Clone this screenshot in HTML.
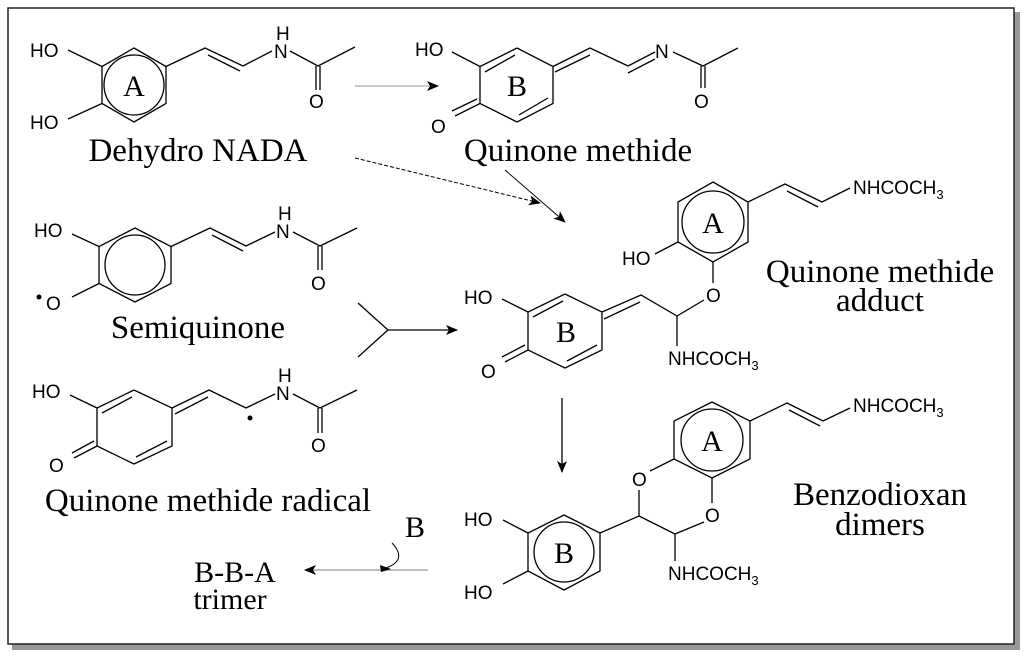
<!DOCTYPE html>
<html><head><meta charset="utf-8"><style>
html,body{margin:0;padding:0;background:#fff;width:1024px;height:657px;overflow:hidden}
svg{display:block}
.s{font-family:"Liberation Sans",sans-serif;font-size:19px;fill:#000}
.r{font-family:"Liberation Serif",serif;fill:#000}
</style></head><body>
<svg width="1024" height="657" viewBox="0 0 1024 657" xmlns="http://www.w3.org/2000/svg">
<defs>
<marker id="ah" viewBox="0 0 12 10" refX="11" refY="5" markerWidth="12" markerHeight="10" markerUnits="userSpaceOnUse" orient="auto"><path d="M0,0 L12,5 L0,10 L3,5 Z" fill="#000"/></marker>
</defs>
<rect x="12" y="12" width="1008" height="638" fill="#999"/>
<rect x="8" y="8" width="1006" height="636" fill="#fff" stroke="#222" stroke-width="1.5"/>
<g stroke="#000" stroke-width="1.3" fill="none">
<!-- Dehydro NADA -->
<polygon points="134,48 166,66.5 166,103.5 134,122 102,103.5 102,66.5"/>
<circle cx="134" cy="85" r="30"/>
<line x1="102" y1="66.5" x2="68" y2="50"/><line x1="102" y1="103.5" x2="68" y2="119"/>
<polyline points="166,66.5 205,48 243,66 272,51"/><line x1="208" y1="55" x2="240" y2="71"/>
<polyline points="290,51 318,66 355,47"/><line x1="316" y1="66" x2="316" y2="90"/><line x1="320" y1="66" x2="320" y2="90"/>
<!-- Quinone methide -->
<polyline points="517,48 553,66.5 553,103.5 517,122 480,103.5 480,66.5 517,48"/>
<line x1="485" y1="72" x2="515" y2="55"/><line x1="519" y1="115" x2="548" y2="98"/>
<line x1="480" y1="66.5" x2="452" y2="52"/>
<line x1="480" y1="103.5" x2="455" y2="116"/><line x1="477" y1="99" x2="452" y2="111"/>
<polyline points="553,66.5 590,48 628,66"/><line x1="555" y1="72" x2="590" y2="55"/>
<line x1="628" y1="66" x2="655" y2="52"/><line x1="628" y1="73" x2="655" y2="59"/>
<polyline points="673,52 703,66 738,48"/><line x1="701" y1="66" x2="701" y2="88"/><line x1="705" y1="66" x2="705" y2="88"/>
<!-- Semiquinone -->
<polygon points="135,228 171,246.5 171,283.5 135,302 99,283.5 99,246.5"/>
<circle cx="135" cy="265" r="30"/>
<line x1="99" y1="246.5" x2="72" y2="234"/><line x1="99" y1="283.5" x2="72" y2="297"/>
<polyline points="171,246.5 210,228 246,246 275,232"/><line x1="212" y1="235" x2="243" y2="251"/>
<polyline points="293,232 320,246 357,228"/><line x1="318" y1="246" x2="318" y2="270"/><line x1="322" y1="246" x2="322" y2="270"/>
<!-- Quinone methide radical -->
<polyline points="134,390 172,408 172,446 134,464 97,446 97,408 134,390"/>
<line x1="102" y1="413" x2="132" y2="397"/><line x1="136" y1="457" x2="167" y2="441"/>
<line x1="97" y1="408" x2="70" y2="395"/>
<line x1="97" y1="446" x2="74" y2="458"/><line x1="94" y1="441" x2="72" y2="453"/>
<polyline points="172,408 209,390 246,408 275,394"/><line x1="175" y1="414" x2="208" y2="397"/>
<polyline points="293,394 320,408 357,390"/><line x1="318" y1="408" x2="318" y2="433"/><line x1="322" y1="408" x2="322" y2="433"/>
<!-- arrows -->
<line x1="355" y1="86" x2="438" y2="86" stroke="#aaa" marker-end="url(#ah)"/>
<line x1="355" y1="158" x2="540" y2="203" stroke-dasharray="4,2" stroke-width="1" marker-end="url(#ah)"/>
<line x1="505" y1="170" x2="565" y2="222" stroke-width="1" marker-end="url(#ah)"/>
<line x1="358" y1="303" x2="388" y2="330"/><line x1="358" y1="357" x2="388" y2="330"/>
<line x1="388" y1="330" x2="457" y2="330" marker-end="url(#ah)"/>
<line x1="562" y1="398" x2="562" y2="472" marker-end="url(#ah)"/>
<line x1="428" y1="570" x2="305" y2="570" stroke="#999" marker-end="url(#ah)"/>
<path d="M392,543 Q408,560 386,568" stroke-width="1"/>
<path d="M380,565 L391,569 L381,572 Z" fill="#000" stroke="none"/>
<!-- Adduct ring A -->
<polygon points="713,182 748,202 748,242 713,262 678,242 678,202"/>
<circle cx="713" cy="222" r="31"/>
<line x1="678" y1="242" x2="655" y2="254"/>
<line x1="713" y1="262" x2="713" y2="283"/>
<polyline points="748,202 785,184 822,202 850,188"/><line x1="787" y1="191" x2="818" y2="207"/>
<!-- Adduct ring B -->
<polyline points="565,294 602,312 602,350 565,368 528,350 528,312 565,294"/>
<line x1="533" y1="317" x2="563" y2="301"/><line x1="567" y1="361" x2="597" y2="345"/>
<line x1="528" y1="312" x2="502" y2="299"/>
<line x1="528" y1="350" x2="505" y2="362"/><line x1="525" y1="345" x2="502" y2="357"/>
<polyline points="602,312 641,295 677,316 704,300"/><line x1="604" y1="319" x2="640" y2="302"/>
<line x1="677" y1="316" x2="677" y2="346"/>
<!-- Dimer ring A -->
<polygon points="712,402 750,421 750,459 712,478 674,459 674,421"/>
<circle cx="712" cy="440" r="31"/>
<polyline points="750,421 787,403 823,421 850,408"/><line x1="789" y1="410" x2="820" y2="426"/>
<line x1="674" y1="459" x2="650" y2="471"/>
<line x1="712" y1="478" x2="712" y2="503"/>
<line x1="639" y1="490" x2="639" y2="516"/>
<line x1="704" y1="522" x2="675" y2="534"/>
<line x1="639" y1="516" x2="675" y2="534"/>
<line x1="675" y1="534" x2="675" y2="561"/>
<!-- Dimer ring B -->
<polygon points="564,515 600,533 600,571 564,590 528,571 528,533"/>
<circle cx="564" cy="552" r="30"/>
<line x1="600" y1="533" x2="639" y2="516"/>
<line x1="528" y1="533" x2="503" y2="520"/><line x1="528" y1="571" x2="503" y2="584"/>
</g>
<circle cx="250" cy="418" r="2.5"/>
<circle cx="39" cy="297" r="2.5"/>
<!-- text -->
<g class="s">
<text x="30" y="57">HO</text><text x="30" y="129">HO</text>
<text x="274" y="58">N</text><text x="276" y="40">H</text>
<text x="309" y="108">O</text>
<text x="415" y="56">HO</text><text x="431" y="133">O</text>
<text x="655" y="58">N</text><text x="694" y="108">O</text>
<text x="34" y="237">HO</text><text x="46" y="310">O</text>
<text x="276" y="238">N</text><text x="278" y="220">H</text><text x="311" y="290">O</text>
<text x="32" y="398">HO</text><text x="49" y="472">O</text>
<text x="276" y="400">N</text><text x="278" y="382">H</text><text x="311" y="452">O</text>
<text x="853" y="194">NHCOCH<tspan font-size="13" dy="5">3</tspan></text>
<text x="622" y="265">HO</text><text x="706" y="302">O</text>
<text x="464" y="304">HO</text><text x="481" y="378">O</text>
<text x="668" y="365">NHCOCH<tspan font-size="13" dy="5">3</tspan></text>
<text x="853" y="412">NHCOCH<tspan font-size="13" dy="5">3</tspan></text>
<text x="632" y="486">O</text><text x="705" y="522">O</text>
<text x="668" y="580">NHCOCH<tspan font-size="13" dy="5">3</tspan></text>
<text x="464" y="526">HO</text><text x="464" y="599">HO</text>
</g>
<g class="r" font-size="30">
<text x="134" y="96" text-anchor="middle">A</text>
<text x="517" y="96" text-anchor="middle">B</text>
<text x="713" y="233" text-anchor="middle">A</text>
<text x="566" y="342" text-anchor="middle">B</text>
<text x="712" y="451" text-anchor="middle">A</text>
<text x="564" y="563" text-anchor="middle">B</text>
</g>
<g class="r" font-size="33">
<text x="198" y="161" text-anchor="middle">Dehydro NADA</text>
<text x="578" y="161" text-anchor="middle">Quinone methide</text>
<text x="198" y="338" text-anchor="middle">Semiquinone</text>
<text x="208" y="511" text-anchor="middle">Quinone methide radical</text>
<text x="880" y="282" text-anchor="middle">Quinone methide</text>
<text x="880" y="311" text-anchor="middle">adduct</text>
<text x="880" y="505" text-anchor="middle">Benzodioxan</text>
<text x="880" y="535" text-anchor="middle">dimers</text>
<text x="415" y="537" text-anchor="middle" font-size="30">B</text>
<text x="235" y="582" text-anchor="middle" font-size="30">B-B-A</text>
<text x="230" y="609" text-anchor="middle" font-size="30">trimer</text>
</g>
</svg>
</body></html>
